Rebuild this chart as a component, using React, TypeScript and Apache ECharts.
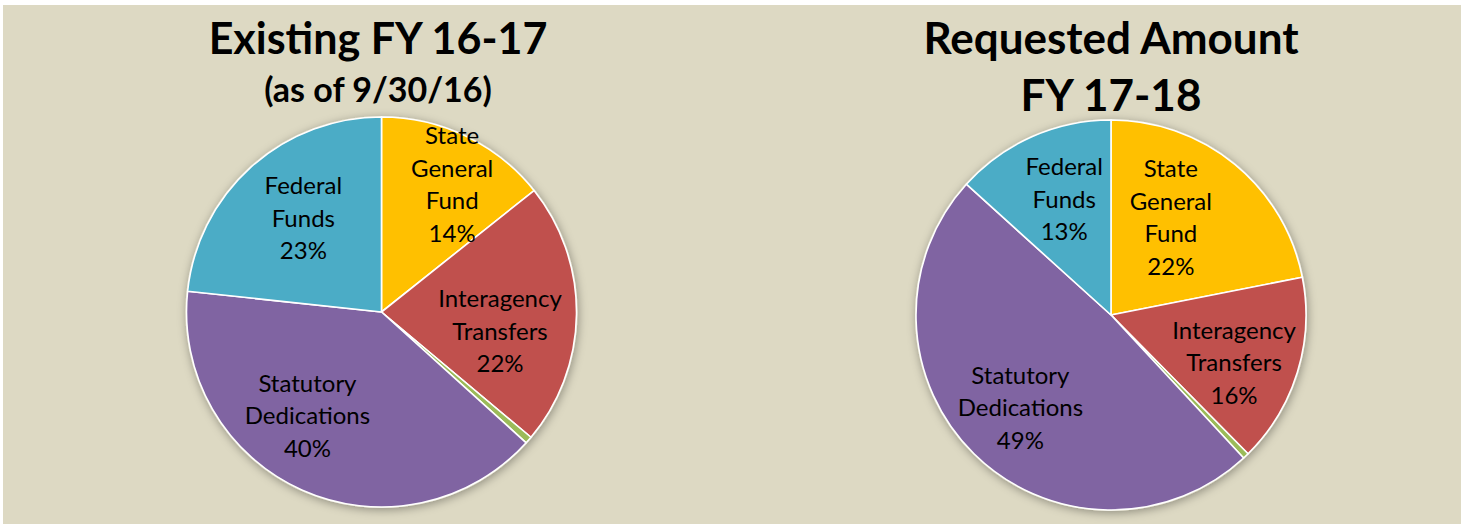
import React, { useEffect, useRef } from "react";
import * as echarts from "echarts";

// ---- data ----
const categories = [
  "State General Fund",
  "Interagency Transfers",
  "Other",
  "Statutory Dedications",
  "Federal Funds",
];
const labelNames = [
  "State\nGeneral\nFund",
  "Interagency\nTransfers",
  "",
  "Statutory\nDedications",
  "Federal\nFunds",
];
const existingValues = [14.3, 21.8, 0.6, 40.0, 23.3];
const requestedValues = [21.9, 15.7, 0.5, 48.6, 13.3];
const titleLeft = ["Existing FY 16-17", "(as of 9/30/16)"];
const titleRight = ["Requested Amount", "FY 17-18"];

const colors = ["#FFC000", "#C0504D", "#9BBB59", "#8064A2", "#4BACC6"];

// label offsets from the default "inside" position, [dx, dy] per slice
const labelOffsets = [
  [
    [27, -38],
    [18, 17],
    [0, 0],
    [-33, 11],
    [-11, -20],
  ],
  [
    [-4, -21],
    [27, 17],
    [0, 0],
    [-20, 20],
    [-6, -25],
  ],
];

const FONT = "Lato, 'Open Sans', sans-serif";

function makePie(values: number[], center: [number, number], idx: number) {
  return {
    type: "pie",
    name: idx === 0 ? "Existing FY 16-17" : "Requested Amount FY 17-18",
    center,
    radius: 195,
    startAngle: 90,
    clockwise: true,
    avoidLabelOverlap: false,
    z: 3,
    itemStyle: { borderColor: "#FFFFFF", borderWidth: 1.6 },
    label: {
      show: true,
      position: "inside",
      fontFamily: FONT,
      fontSize: 24,
      lineHeight: 32.5,
      color: "#000000",
      formatter: (p: any) =>
        labelNames[p.dataIndex] ? `${labelNames[p.dataIndex]}\n${Math.round(p.percent)}%` : "",
    },
    labelLine: { show: false },
    labelLayout: (p: any) => {
      const o = labelOffsets[idx][p.dataIndex];
      return { dx: o[0], dy: o[1] };
    },
    emphasis: { disabled: true },
    data: categories.map((c, i) => ({
      name: c,
      value: values[i],
      itemStyle: { color: colors[i] },
      label: i === 2 ? { show: false } : undefined,
    })),
  };
}

function shadowPie(center: [number, number]) {
  return {
    type: "pie",
    silent: true,
    center,
    radius: 196,
    z: 1,
    label: { show: false },
    labelLine: { show: false },
    itemStyle: {
      color: "#DDD9C3",
      shadowBlur: 10,
      shadowColor: "rgba(0,0,0,0.35)",
      shadowOffsetX: 1,
      shadowOffsetY: 2,
    },
    data: [{ name: "", value: 1 }],
  };
}

export default function App() {
  const ref = useRef<HTMLDivElement>(null);
  useEffect(() => {
    document.body.style.margin = "0";
    if (!ref.current) return;
    const chart = echarts.init(ref.current, undefined, { renderer: "svg" });
    const leftC: [number, number] = [381.5, 312];
    const rightC: [number, number] = [1111, 315];
    const titleStyle = (text: string, size: number) => ({
      text,
      font: `bold ${size}px ${FONT}`,
      fill: "#000",
      align: "center",
      verticalAlign: "middle",
    });
    chart.setOption({
      animation: false,
      backgroundColor: "#FFFFFF",
      graphic: [
        {
          type: "rect",
          z: -10,
          shape: { x: 3, y: 5, width: 1458, height: 519 },
          style: { fill: "#DDD9C3" },
        },
        { type: "text", x: 378, y: 37, style: titleStyle(titleLeft[0], 43) },
        { type: "text", x: 378, y: 88, style: titleStyle(titleLeft[1], 34) },
        { type: "text", x: 1111, y: 37, style: titleStyle(titleRight[0], 44) },
        { type: "text", x: 1111, y: 94, style: titleStyle(titleRight[1], 44) },
      ],
      series: [
        shadowPie(leftC),
        shadowPie(rightC),
        makePie(existingValues, leftC, 0),
        makePie(requestedValues, rightC, 1),
      ],
    });
    return () => chart.dispose();
  }, []);
  return <div ref={ref} style={{ width: 1468, height: 524 }} />;
}
